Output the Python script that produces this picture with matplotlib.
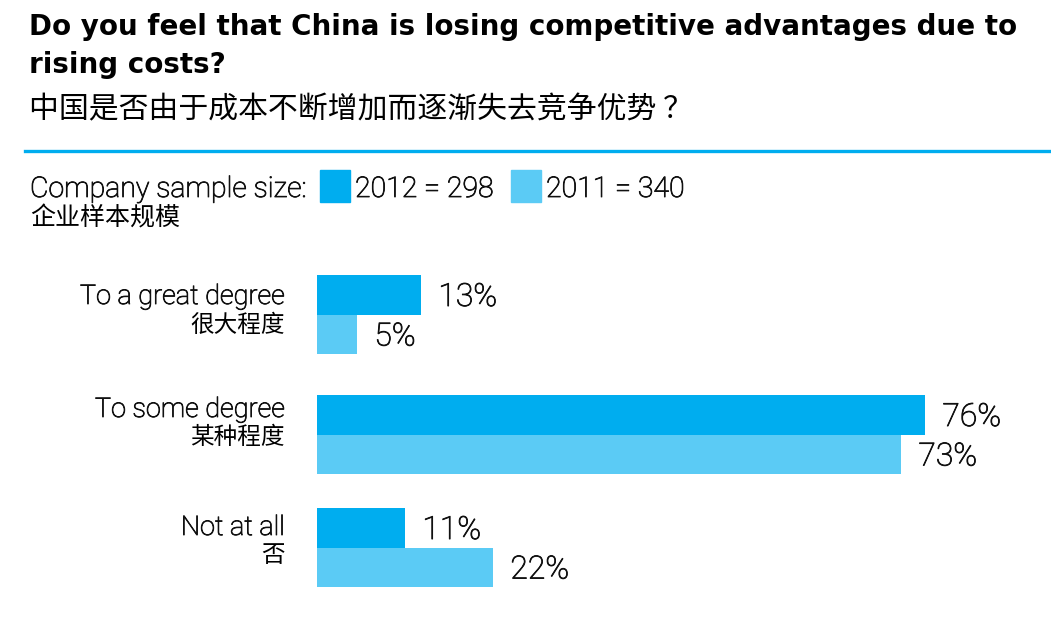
import matplotlib.pyplot as plt
import matplotlib.patheffects as pe
from matplotlib.patches import Rectangle
from matplotlib import font_manager

W, H = 1051, 628

# data
cats_en = ['To a great degree', 'To some degree', 'Not at all']
cats_zh = ['很大程度', '某种程度', '否']
v2012 = [13, 76, 11]
v2011 = [5, 73, 22]
series = ['2012 = 298', '2011 = 340']

c12 = '#00ADEF'
c11 = '#5BCBF5'
ink = '#111111'

names = {f.name for f in font_manager.fontManager.ttflist}
en = 'Roboto' if 'Roboto' in names else 'DejaVu Sans'
zh = 'Noto Sans CJK SC'

plt.rcParams['font.family'] = [en, zh, 'DejaVu Sans']

# light weight thickened a touch, closer to the original's face
thick = [pe.withStroke(linewidth=0.6, foreground=ink)]


def fx(x):
    return x / W


def fy(y):
    return 1 - y / H


fig = plt.figure(figsize=(W / 100, H / 100), dpi=100)

# titles
fig.text(fx(29), fy(35), 'Do you feel that China is losing competitive advantages due to',
         fontsize=20, fontweight='bold', va='baseline', family=['DejaVu Sans'])
fig.text(fx(29), fy(73), 'rising costs?', fontsize=20, fontweight='bold', va='baseline',
         family=['DejaVu Sans'])
fig.text(fx(29), fy(110), '中国是否由于成本不断增加而逐渐失去竞争优势 ？', fontsize=21.5,
         va='center', family=[zh, 'DejaVu Sans'])

# rule
fig.add_artist(plt.Line2D([fx(25), 1], [fy(151), fy(151)], color=c12, lw=2.4))

# legend row
fig.text(fx(30), fy(197), 'Company sample size:', fontsize=20.5, fontweight='light',
         va='baseline', color=ink, path_effects=thick)
fig.text(fx(30), fy(218), '企业样本规模', fontsize=18, va='center', family=[zh])
for x0, col, lab in [(320, c12, series[0]), (511, c11, series[1])]:
    fig.add_artist(Rectangle((fx(x0), fy(202)), fx(30), 32 / H, color=col,
                             transform=fig.transFigure))
    fig.text(fx(x0 + 35), fy(197), lab, fontsize=20.5, fontweight='light', va='baseline',
             color=ink, path_effects=thick)

# bars
top, bot, left = 260, 600, 317
ax = fig.add_axes([fx(left), fy(bot), 1 - fx(left), (bot - top) / H])
ax.set_xlim(0, (W - left) / 8)
ax.set_ylim(bot - top, 0)
ax.axis('off')

grp_top = [15, 135, 248]
bh = 39.5
y12 = [g + bh / 2 for g in grp_top]
y11 = [g + bh * 1.5 for g in grp_top]
ax.barh(y12, v2012, height=bh, color=c12)
ax.barh(y11, v2011, height=bh, color=c11)

for ys, vs in [(y12, v2012), (y11, v2011)]:
    for y, v in zip(ys, vs):
        ax.annotate(f'{v}%', (v, y), xytext=(12.5, -2), textcoords='offset points',
                    va='center', ha='left', fontsize=23, fontweight='light', color=ink,
                    path_effects=thick)

# category labels
en_base = [304, 417, 535]
zh_mid = [325, 437, 555]
for t, b, z, m in zip(cats_en, en_base, cats_zh, zh_mid):
    fig.text(fx(285), fy(b), t, fontsize=19.5, fontweight='light', ha='right', va='baseline',
             color=ink, path_effects=thick)
    fig.text(fx(285), fy(m), z, fontsize=17, ha='right', va='center', family=[zh])

fig.savefig('out.png', dpi=100)
